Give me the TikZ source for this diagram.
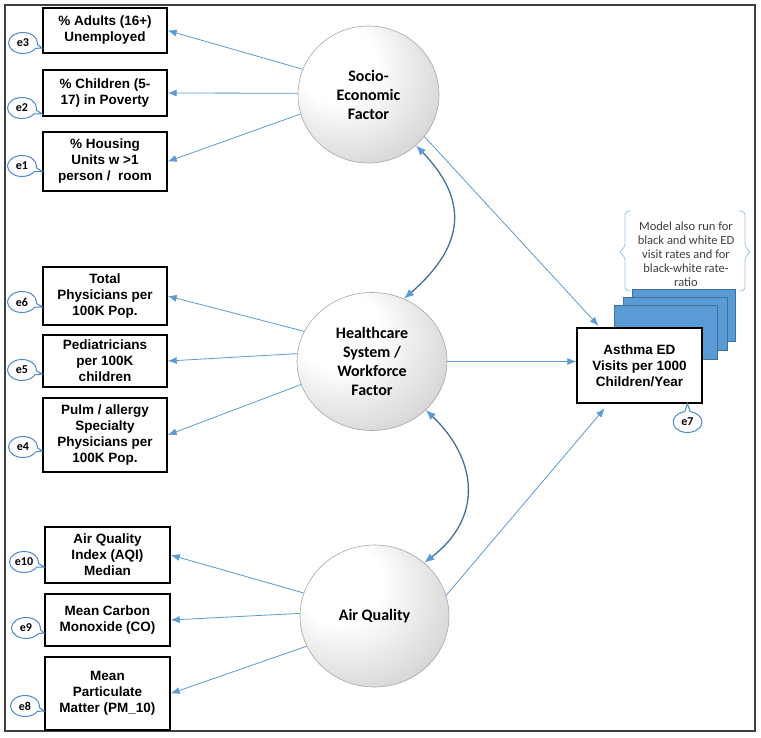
\documentclass[tikz,border=0pt]{standalone}
\usepackage{fontspec}
\setmainfont{Liberation Sans}
\newfontfamily\calibri{Carlito}
\usetikzlibrary{arrows.meta,shapes.geometric,shapes.callouts,calc}
\definecolor{lineblue}{HTML}{5B9BD5}
\definecolor{darkblue}{HTML}{41719C}
\definecolor{calloutblue}{HTML}{4A8AD0}
\definecolor{stackfill}{HTML}{5B9BD5}
\definecolor{stackdraw}{HTML}{41719C}
\definecolor{braceblue}{HTML}{9DC3E6}
\definecolor{notetext}{HTML}{404040}
\definecolor{circleedge}{HTML}{A6A6A6}
\pgfdeclareradialshading{sphereshade}{\pgfpoint{-15bp}{15bp}}{color(0bp)=(white); color(14bp)=(white); color(42bp)=(black!22); color(60bp)=(black!26)}
\begin{document}
\begin{tikzpicture}[x=1pt,y=-1pt,
  obs/.style={draw=black, line width=1.4pt, fill=white, align=center, inner sep=2pt, font=\bfseries\fontsize{13.5}{16}\selectfont},
  latent/.style={ellipse, draw=circleedge, line width=0.6pt, shade, shading=sphereshade, align=center, inner sep=0pt, font=\calibri\bfseries\fontsize{16}{19}\selectfont},
  err/.style={ellipse callout, draw=calloutblue, line width=1pt, fill=white, minimum width=29pt, minimum height=21pt, inner sep=0pt, font=\calibri\bfseries\fontsize{12}{13}\selectfont, callout pointer arc=22},
  load/.style={draw=lineblue, line width=0.8pt, -{Latex[length=9pt,width=7pt]}},
  cov/.style={draw=darkblue, line width=1.3pt, {Latex[length=10pt,width=8pt,color=lineblue]}-{Latex[length=10pt,width=8pt,color=lineblue]}},
  stackbox/.style={fill=stackfill, draw=stackdraw, line width=0.6pt}
]
\fill[white] (0,0) rectangle (761,737);
\path[use as bounding box] (0,0) rectangle (761,737);
\draw[line width=1.3pt, black!75] (5,5) rectangle (755,731);

% observed indicators
\node[obs, minimum width=124pt, minimum height=45pt] (b1) at (105,30.5) {\% Adults (16+)\\Unemployed};
\node[obs, minimum width=124pt, minimum height=46pt] (b2) at (105,93) {\% Children (5-\\17) in Poverty};
\node[obs, minimum width=124pt, minimum height=59pt] (b3) at (105,161.5) {\% Housing\\Units w >1\\person / \ room};
\node[obs, minimum width=124pt, minimum height=58pt] (b4) at (105,296) {Total\\Physicians per\\100K Pop.};
\node[obs, minimum width=124pt, minimum height=52pt] (b5) at (105,361) {Pediatricians\\per 100K\\children};
\node[obs, minimum width=124pt, minimum height=74pt] (b6) at (105,435) {Pulm / allergy\\Specialty\\Physicians per\\100K Pop.};
\node[obs, minimum width=125pt, minimum height=56pt] (b7) at (107.5,555) {Air Quality\\Index (AQI)\\Median};
\node[obs, minimum width=125pt, minimum height=52pt] (b8) at (107.5,620) {Mean Carbon\\Monoxide (CO)};
\node[obs, minimum width=125pt, minimum height=73pt] (b9) at (107.5,693.5) {Mean\\Particulate\\Matter (PM\_10)};

% latent factors
\node[latent, minimum width=141pt, minimum height=137pt] (socio) at (368.5,94.5) {Socio-\\Economic\\Factor};
\node[latent, minimum width=150pt, minimum height=138pt] (hc) at (372,361.5) {Healthcare\\System /\\Workforce\\Factor};
\node[latent, minimum width=149pt, minimum height=142pt] (air) at (374.5,616) {Air Quality};

% stacked outcome sheets
\path[stackbox] (632,289) rectangle (735,341);
\path[stackbox] (623,297) rectangle (727,350);
\path[stackbox] (614,305) rectangle (717,359);
\node[obs, minimum width=125pt, minimum height=75pt] (asthma) at (639.5,365.5) {Asthma ED\\Visits per 1000\\Children/Year};

% note with braces
\draw[braceblue, line width=0.8pt, rounded corners=4pt] (631,211) -- (625,211) -- (625,248) -- (618,252) -- (625,256) -- (625,291) -- (631,291);
\draw[braceblue, line width=0.8pt, rounded corners=4pt] (739,211) -- (745,211) -- (745,248) -- (752,252) -- (745,256) -- (745,291) -- (739,291);
\node[align=center, text=notetext, font=\calibri\fontsize{12.5}{14}\selectfont] (note) at (686,254.5) {Model also run for\\black and white ED\\visit rates and for\\black-white rate-\\ratio};

% error terms
\node[err, callout absolute pointer={($(b1.west)+(0,17.5)$)}] (e3) at (23,43) {e3};
\node[err, callout absolute pointer={($(b2.west)+(0,21)$)}] (e2) at (22,108) {e2};
\node[err, callout absolute pointer={($(b3.west)+(0,10)$)}] (e1) at (22,166) {e1};
\node[err, callout absolute pointer={($(b4.west)+(0,11)$)}] (e6) at (22,302) {e6};
\node[err, callout absolute pointer={($(b5.west)+(0,13)$)}] (e5) at (22,370) {e5};
\node[err, callout absolute pointer={($(b6.west)+(0,16)$)}] (e4) at (23,447) {e4};
\node[err, callout absolute pointer={($(b7.west)+(0,12)$)}] (e10) at (24,562) {e10};
\node[err, callout absolute pointer={($(b8.west)+(0,13)$)}] (e9) at (26,628) {e9};
\node[err, callout absolute pointer={($(b9.west)+(0,17.5)$)}] (e8) at (25,706) {e8};
\node[err, callout absolute pointer={($(asthma.south)+(48,0)$)}] (e7) at (687.5,422) {e7};

% loadings
\draw[load] (socio.159) -- (b1.east);
\draw[load] (socio.179) -- (b2.east);
\draw[load] (socio.196) -- (b3.east);
\draw[load] (hc.156) -- (b4.east);
\draw[load] (hc.174) -- (b5.east);
\draw[load] (hc.198) -- (b6.east);
\draw[load] (air.162) -- (b7.east);
\draw[load] (air.178) -- (b8.east);
\draw[load] (air.204) -- (b9.east);

% paths to outcome
\draw[load, shorten >=2pt] (socio.323) -- (asthma.136);
\draw[load] (hc.east) -- (asthma.west |- hc.east);
\draw[load, shorten >=6pt] (air.16) -- (asthma.231);

% covariances
\draw[cov] (socio.313) .. controls +(53,55) and +(61,-53) .. (hc.63);
\draw[cov] (hc.318) .. controls +(52,50) and +(59,-45) .. (air.47);
\end{tikzpicture}
\end{document}
